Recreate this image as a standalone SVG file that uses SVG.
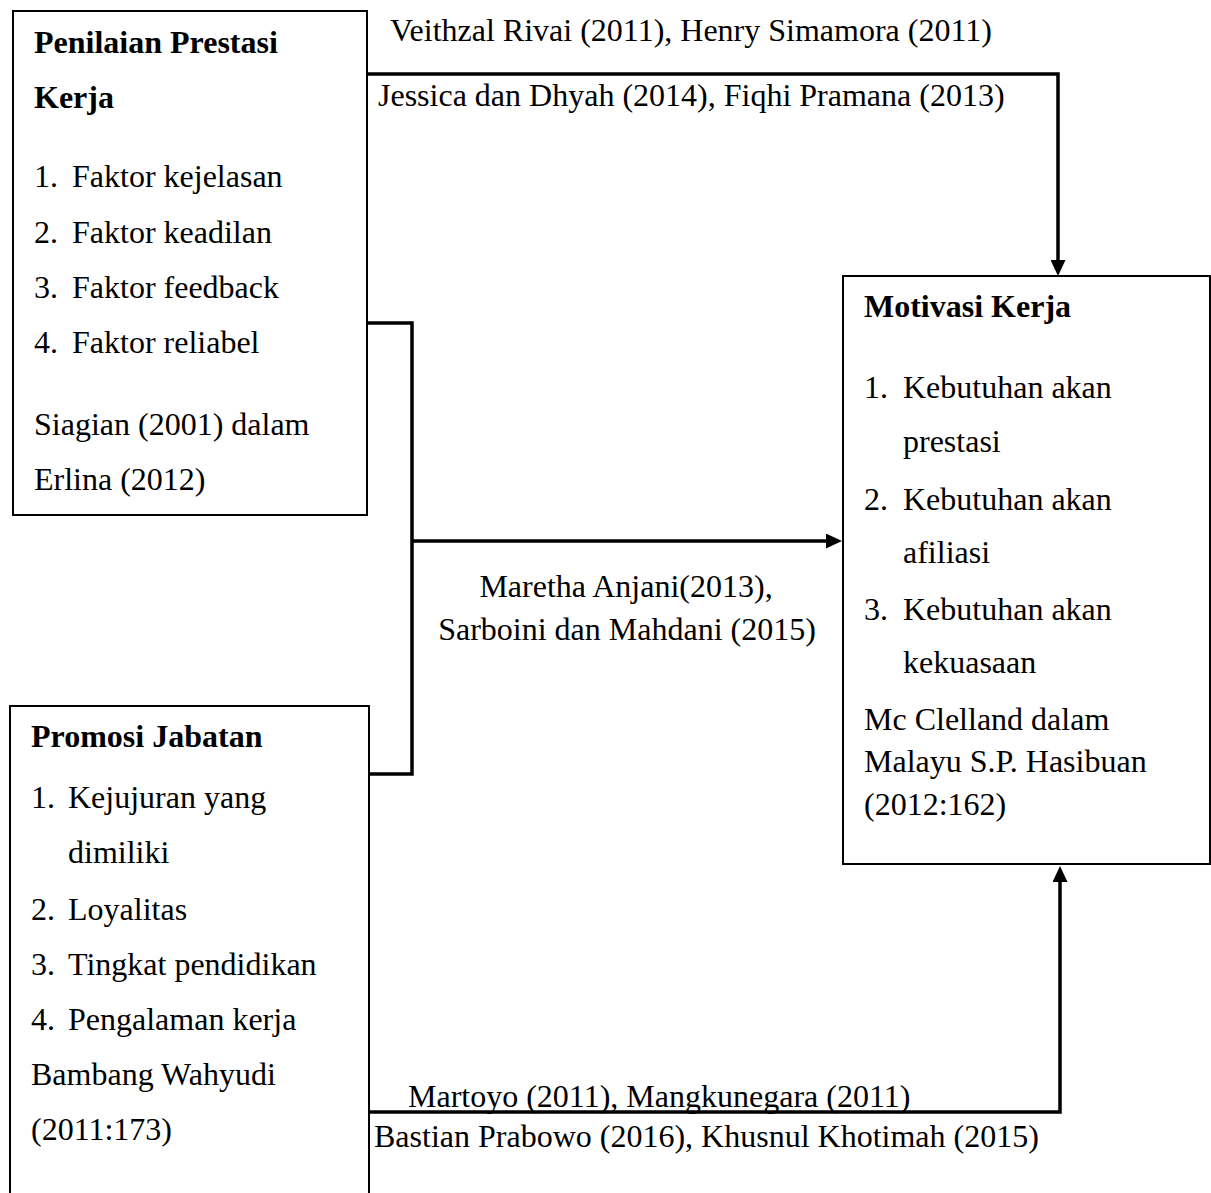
<svg xmlns="http://www.w3.org/2000/svg" width="1211" height="1193" viewBox="0 0 1211 1193">
<defs>
<style>
text { font-family: "Liberation Serif", "Times New Roman", serif; font-size: 32px; fill: #000; }
.b { font-weight: bold; }
.box { fill: #fff; stroke: #000; stroke-width: 2; }
.conn { fill: none; stroke: #000; stroke-width: 3.5; stroke-linejoin: miter; }
</style>
<marker id="arr" markerUnits="userSpaceOnUse" markerWidth="17" markerHeight="15" refX="1" refY="7.5" orient="auto">
<path d="M0,0 L16,7.5 L0,15 z" fill="#000"/>
</marker>
</defs>
<rect width="1211" height="1193" fill="#fff"/>

<g id="node-penilaian">
<rect class="box" x="13" y="11" width="354" height="504"/>
<text class="b" x="34" y="53">Penilaian Prestasi</text>
<text class="b" x="34" y="108">Kerja</text>
<text x="34" y="187">1.</text><text x="72" y="187">Faktor kejelasan</text>
<text x="34" y="243">2.</text><text x="72" y="243">Faktor keadilan</text>
<text x="34" y="298">3.</text><text x="72" y="298">Faktor feedback</text>
<text x="34" y="353">4.</text><text x="72" y="353">Faktor reliabel</text>
<text x="34" y="435">Siagian (2001) dalam</text>
<text x="34" y="490">Erlina (2012)</text>
</g>

<g id="node-promosi">
<rect class="box" x="10" y="706" width="359" height="510"/>
<text class="b" x="31" y="747">Promosi Jabatan</text>
<text x="31" y="808">1.</text><text x="68" y="808">Kejujuran yang</text>
<text x="68" y="863">dimiliki</text>
<text x="31" y="920">2.</text><text x="68" y="920">Loyalitas</text>
<text x="31" y="975">3.</text><text x="68" y="975">Tingkat pendidikan</text>
<text x="31" y="1030">4.</text><text x="68" y="1030">Pengalaman kerja</text>
<text x="31" y="1085">Bambang Wahyudi</text>
<text x="31" y="1140">(2011:173)</text>
</g>

<g id="node-motivasi">
<rect class="box" x="843" y="276" width="367" height="588"/>
<text class="b" x="864" y="317">Motivasi Kerja</text>
<text x="864" y="398">1.</text><text x="903" y="398">Kebutuhan akan</text>
<text x="903" y="452">prestasi</text>
<text x="864" y="510">2.</text><text x="903" y="510">Kebutuhan akan</text>
<text x="903" y="563">afiliasi</text>
<text x="864" y="620">3.</text><text x="903" y="620">Kebutuhan akan</text>
<text x="903" y="673">kekuasaan</text>
<text x="864" y="730">Mc Clelland dalam</text>
<text x="864" y="772">Malayu S.P. Hasibuan</text>
<text x="864" y="815">(2012:162)</text>
</g>

<g id="connectors">
<path class="conn" d="M367,74 H1058 V261" marker-end="url(#arr)"/>
<path class="conn" d="M367,323 H412 V774 H369"/>
<path class="conn" d="M412,541 H827" marker-end="url(#arr)"/>
<path class="conn" d="M369,1112 H1060 V881" marker-end="url(#arr)"/>
<text x="390" y="41">Veithzal Rivai (2011), Henry Simamora (2011)</text>
<text x="378" y="106">Jessica dan Dhyah (2014), Fiqhi Pramana (2013)</text>
<text x="626" y="597" text-anchor="middle">Maretha Anjani(2013),</text>
<text x="627" y="640" text-anchor="middle">Sarboini dan Mahdani (2015)</text>
<text x="408" y="1107">Martoyo (2011), Mangkunegara (2011)</text>
<text x="374" y="1147">Bastian Prabowo (2016), Khusnul Khotimah (2015)</text>
</g>
</svg>
